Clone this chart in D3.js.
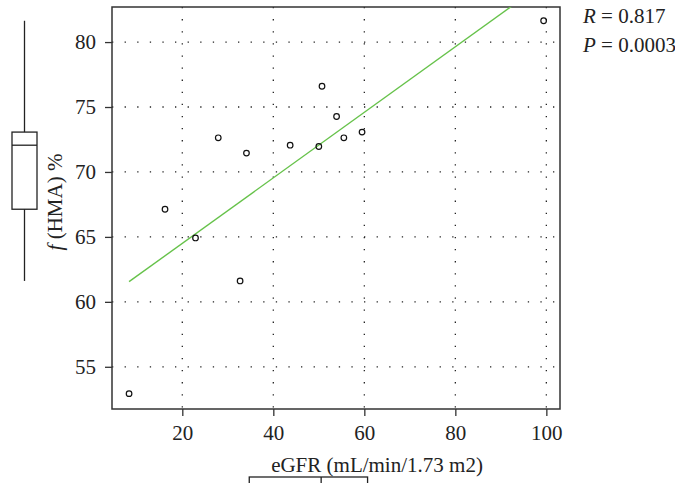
<!DOCTYPE html>
<html>
<head>
<meta charset="utf-8">
<script src="https://cdn.jsdelivr.net/npm/d3@7"></script>
<style>
	body { margin: 0; background: #fff; }
	text { font-family: "Liberation Serif", "DejaVu Serif", serif; fill: #222; }
</style>
</head>
<body>
<div id="chart"></div>
<script>
// eGFR values (x) and f(HMA) % values (y), one per patient
var egfr = [8.3, 16.2, 22.9, 27.9, 32.7, 34.1, 43.7, 50.0, 50.7, 53.9, 55.5, 59.5, 99.4];
var hma  = [52.93, 67.13, 64.92, 72.63, 61.61, 71.45, 72.06, 71.96, 76.6, 74.27, 72.63, 73.07, 81.64];

var xTicks = [20, 40, 60, 80, 100];
var yTicks = [55, 60, 65, 70, 75, 80];
var statsText = ["R = 0.817", "P = 0.0003"];

//chart size
var width = 675;
var height = 483;
var plot = {left: 112, right: 560, top: 7, bottom: 409};
var fontSize = 21;

var svg = d3.select("#chart").append("svg")
	.attr("width", width)
	.attr("height", height);

var x = d3.scaleLinear().domain([4.55, 103]).range([plot.left, plot.right]);
var y = d3.scaleLinear().domain([51.75, 82.7]).range([plot.bottom, plot.top]);

//dotted grid
svg.append("g").selectAll("line").data(xTicks).join("line")
	.attr("x1", d => x(d)).attr("x2", d => x(d))
	.attr("y1", plot.top).attr("y2", plot.bottom)
	.attr("stroke", "#222").attr("stroke-width", 1.3)
	.attr("stroke-dasharray", "1.3,10.8");
svg.append("g").selectAll("line").data(yTicks).join("line")
	.attr("x1", plot.left).attr("x2", plot.right)
	.attr("y1", d => y(d)).attr("y2", d => y(d))
	.attr("stroke", "#222").attr("stroke-width", 1.3)
	.attr("stroke-dasharray", "1.3,11.3");

//axes
var xAxis = svg.append("g")
	.attr("transform", "translate(0," + plot.bottom + ")")
	.call(d3.axisBottom(x).tickValues(xTicks).tickSize(7).tickPadding(9));
var yAxis = svg.append("g")
	.attr("transform", "translate(" + plot.left + ",0)")
	.call(d3.axisLeft(y).tickValues(yTicks).tickSize(7).tickPadding(9));
[xAxis, yAxis].forEach(function(a) {
	a.select(".domain").remove();
	a.selectAll(".tick line").attr("stroke", "#333").attr("stroke-width", 1.3);
	a.selectAll(".tick text").attr("font-size", fontSize)
		.style("font-family", "Liberation Serif, serif").attr("fill", "#222");
});

//frame
svg.append("rect")
	.attr("x", plot.left).attr("y", plot.top)
	.attr("width", plot.right - plot.left).attr("height", plot.bottom - plot.top)
	.attr("fill", "none").attr("stroke", "#333").attr("stroke-width", 1.5);

//least squares fit line, clipped to the frame
svg.append("clipPath").attr("id", "clip").append("rect")
	.attr("x", plot.left).attr("y", plot.top)
	.attr("width", plot.right - plot.left).attr("height", plot.bottom - plot.top);
var mx = d3.mean(egfr), my = d3.mean(hma);
var sxy = d3.sum(egfr, (d, i) => (d - mx) * (hma[i] - my));
var sxx = d3.sum(egfr, d => (d - mx) * (d - mx));
var slope = sxy / sxx;
var intercept = my - slope * mx;
var ext = d3.extent(egfr);
svg.append("line")
	.attr("clip-path", "url(#clip)")
	.attr("x1", x(ext[0])).attr("y1", y(intercept + slope * ext[0]))
	.attr("x2", x(ext[1])).attr("y2", y(intercept + slope * ext[1]))
	.attr("stroke", "#66c24a").attr("stroke-width", 1.4);

//points
svg.append("g").selectAll("circle").data(egfr).join("circle")
	.attr("cx", d => x(d))
	.attr("cy", (d, i) => y(hma[i]))
	.attr("r", 2.8)
	.attr("fill", "none").attr("stroke", "#111").attr("stroke-width", 1.2);

//box stats (Tukey style)
function boxStats(vals) {
	var s = vals.slice().sort(d3.ascending);
	var q1 = d3.quantile(s, 0.25), q3 = d3.quantile(s, 0.75);
	var iqr = q3 - q1;
	return {
		q1: q1, med: d3.quantile(s, 0.5), q3: q3,
		lo: d3.min(s.filter(d => d >= q1 - 1.5 * iqr)),
		hi: d3.max(s.filter(d => d <= q3 + 1.5 * iqr))
	};
}

//left marginal box
var yb = boxStats(hma);
var lb = svg.append("g").attr("stroke", "#222").attr("stroke-width", 1.3).attr("fill", "none");
lb.append("line").attr("x1", 24.5).attr("x2", 24.5).attr("y1", y(yb.hi)).attr("y2", y(yb.q3));
lb.append("line").attr("x1", 24.5).attr("x2", 24.5).attr("y1", y(yb.q1)).attr("y2", y(yb.lo));
lb.append("rect").attr("x", 12).attr("width", 25)
	.attr("y", y(yb.q3)).attr("height", y(yb.q1) - y(yb.q3));
lb.append("line").attr("x1", 12).attr("x2", 37).attr("y1", y(yb.med)).attr("y2", y(yb.med));

//bottom marginal box (drawn shifted, cut by page edge)
var xb = boxStats(egfr);
var bb = svg.append("g").attr("transform", "translate(31,0)")
	.attr("stroke", "#222").attr("stroke-width", 1.3).attr("fill", "none");
bb.append("rect").attr("x", x(xb.q1)).attr("width", x(xb.q3) - x(xb.q1))
	.attr("y", 477).attr("height", 25);
bb.append("line").attr("x1", x(xb.med)).attr("x2", x(xb.med)).attr("y1", 477).attr("y2", 502);

//axis titles
svg.append("text")
	.attr("x", 377).attr("y", 472)
	.attr("text-anchor", "middle").attr("font-size", fontSize)
	.text("eGFR (mL/min/1.73 m2)");
var yl = svg.append("text")
	.attr("transform", "translate(62,202) rotate(-90)")
	.attr("text-anchor", "middle").attr("font-size", fontSize);
yl.append("tspan").attr("font-style", "italic").text("f");
yl.append("tspan").text(" (HMA) %");

//stats labels
statsText.forEach(function(t, i) {
	var txt = svg.append("text")
		.attr("x", 583).attr("y", 23 + i * 29)
		.attr("font-size", fontSize);
	txt.append("tspan").attr("font-style", "italic").text(t.slice(0, 1));
	txt.append("tspan").text(t.slice(1));
});
</script>
</body>
</html>
